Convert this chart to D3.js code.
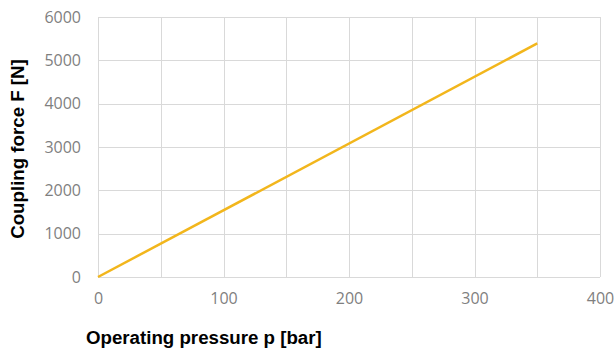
<!DOCTYPE html>
<html>
<head>
<meta charset="utf-8">
<script src="https://cdn.jsdelivr.net/npm/d3@7/dist/d3.min.js"></script>
<style>
  html, body { margin: 0; padding: 0; background: #fff; }
  svg { display: block; }
</style>
</head>
<body>
<svg id="chart" width="615" height="352"></svg>
<script>
// Data
const pressure = [0, 350];          // bar
const force = [0, 5390];            // N
const xTicks = [0, 100, 200, 300, 400];
const yTicks = [0, 1000, 2000, 3000, 4000, 5000, 6000];
const xGrid = [0, 50, 100, 150, 200, 250, 300, 350, 400];
const xTitle = "Operating pressure p [bar]";
const yTitle = "Coupling force F [N]";

const svg = d3.select("#chart");
const m = { left: 98, right: 15, top: 17, bottom: 75 };
const W = 615, H = 352;

const x = d3.scaleLinear().domain([0, 400]).range([m.left, W - m.right]);
const y = d3.scaleLinear().domain([0, 6000]).range([H - m.bottom, m.top]);

// gridlines
svg.append("g").selectAll("line.v").data(xGrid).join("line")
  .attr("x1", d => Math.round(x(d)) + 0.5).attr("x2", d => Math.round(x(d)) + 0.5)
  .attr("y1", y(0)).attr("y2", y(6000))
  .attr("stroke", "#d9d9d9").attr("stroke-width", 1);
svg.append("g").selectAll("line.h").data(yTicks).join("line")
  .attr("x1", x(0)).attr("x2", x(400))
  .attr("y1", d => Math.round(y(d)) + 0.5).attr("y2", d => Math.round(y(d)) + 0.5)
  .attr("stroke", "#d9d9d9").attr("stroke-width", 1);

// axes (labels only)
const xAxis = d3.axisBottom(x).tickValues(xTicks).tickSize(0).tickPadding(16).tickFormat(d3.format("d"));
const gx = svg.append("g").attr("transform", `translate(0,${y(0)})`).call(xAxis);
gx.select(".domain").remove();
gx.selectAll("text").attr("fill", "#7f7f7f").style("font-family", "'Open Sans', sans-serif").style("font-size", "16px");

const yAxis = d3.axisLeft(y).tickValues(yTicks).tickSize(0).tickPadding(17).tickFormat(d3.format("d"));
const gy = svg.append("g").attr("transform", `translate(${x(0)},0)`).call(yAxis);
gy.select(".domain").remove();
gy.selectAll("text").attr("fill", "#7f7f7f").style("font-family", "'Open Sans', sans-serif").style("font-size", "16px");

// line
const pts = pressure.map((p, i) => [p, force[i]]);
svg.append("path")
  .datum(pts)
  .attr("fill", "none")
  .attr("stroke", "#f2b61c")
  .attr("stroke-width", 2.5)
  .attr("d", d3.line().x(d => x(d[0])).y(d => y(d[1])));

// titles
svg.append("text")
  .attr("x", 86).attr("y", 344)
  .attr("font-family", "'Liberation Sans', Arial, sans-serif")
  .attr("font-weight", "bold").attr("font-size", "18.7px").attr("fill", "#000")
  .text(xTitle);

svg.append("text")
  .attr("transform", `translate(24,149) rotate(-90)`)
  .attr("text-anchor", "middle")
  .attr("font-family", "'Liberation Sans', Arial, sans-serif")
  .attr("font-weight", "bold").attr("font-size", "18.7px").attr("fill", "#000")
  .text(yTitle);
</script>
</body>
</html>
